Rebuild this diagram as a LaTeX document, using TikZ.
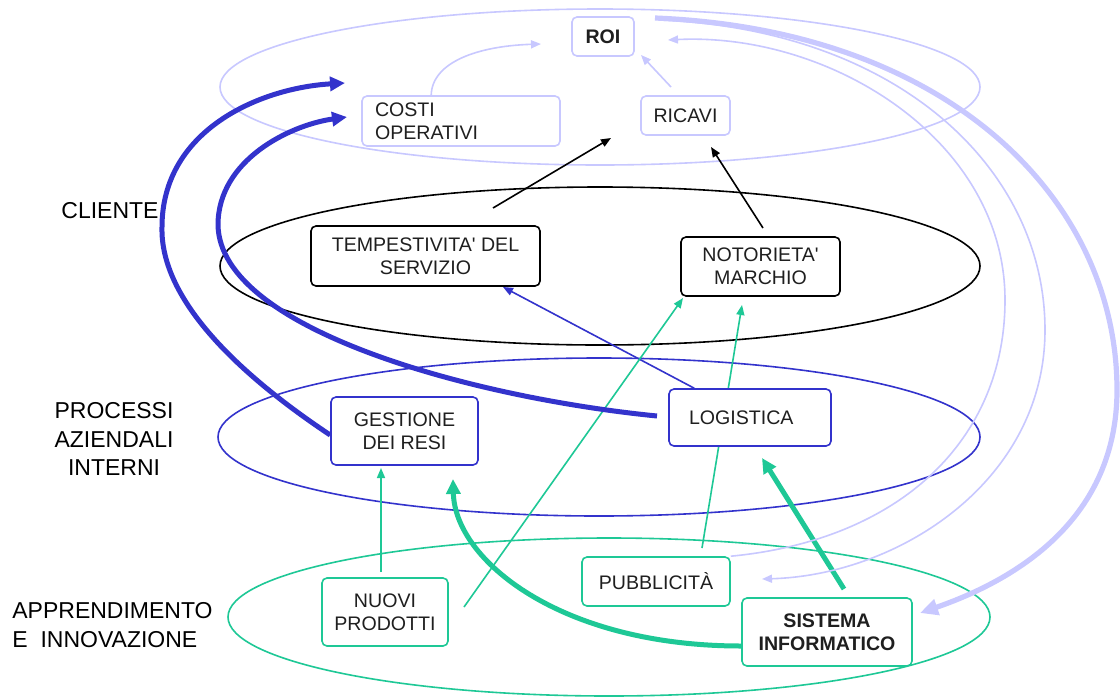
\documentclass[tikz,border=0pt]{standalone}
\usepackage{fontspec}
\setmainfont{Liberation Sans}
\usetikzlibrary{arrows.meta,backgrounds}
\definecolor{lav}{RGB}{200,200,255}
\definecolor{blu}{RGB}{51,51,204}
\definecolor{grn}{RGB}{30,200,150}
\newcommand{\nodefont}{\fontsize{9.8pt}{11.6pt}\selectfont}
\newcommand{\labfont}{\fontsize{11.5pt}{14.2pt}\selectfont}
\begin{document}
\begin{tikzpicture}[x=0.5pt,y=-0.5pt,
  box/.style={rounded corners=2.5pt, fill=white, line width=0.8pt, inner sep=0pt, align=center, font=\nodefont, text=black!88},
  lab/.style={font=\labfont, align=center, inner sep=0pt},
  thinarr/.style={line width=0.8pt, -{Triangle[length=5pt,width=4pt]}},
  thickarr/.style={line width=2.5pt, -{Triangle[length=7.5pt,width=7pt]}},
  bigarr/.style={line width=2.6pt, -{Triangle[length=9pt,width=8pt]}},
  ring/.style={line width=0.8pt}]
\useasboundingbox (0,0) rectangle (1120,697);

% nodes
\node[box, draw=lav, minimum width=31pt, minimum height=19.5pt, font=\nodefont\bfseries] (roi) at (603,36.5) {ROI};
\node[box, draw=lav, minimum height=25pt, text width=86pt, inner xsep=6.5pt, align=left] (costi) at (461,121) {COSTI\\OPERATIVI};
\node[box, draw=lav, minimum width=44.5pt, minimum height=19.5pt] (ricavi) at (685.5,115.5) {RICAVI};
\node[box, draw=black, minimum width=114.5pt, minimum height=30pt] (temp) at (425.5,256) {TEMPESTIVITA\textquotesingle{} DEL\\SERVIZIO};
\node[box, draw=black, minimum width=79.5pt, minimum height=29.5pt] (noto) at (760.5,266.5) {NOTORIETA\textquotesingle\\MARCHIO};
\node[box, draw=blu, minimum width=73.5pt, minimum height=34pt] (gest) at (404.5,431) {GESTIONE\\DEI RESI};
\node[box, draw=blu, minimum height=28.5pt, text width=61pt, inner xsep=10pt, align=left] (logi) at (750,417.5) {LOGISTICA};
\node[box, draw=grn, minimum width=63pt, minimum height=34pt] (nuovi) at (385,612) {NUOVI\\PRODOTTI};
\node[box, draw=grn, minimum width=74pt, minimum height=24.5pt] (pubb) at (656,581.5) {PUBBLICITÀ};
\node[box, draw=grn, minimum width=85pt, minimum height=34pt, font=\nodefont\bfseries] (sist) at (827,632) {SISTEMA\\INFORMATICO};

\node[lab] (cliente) at (110,211) {CLIENTE};
\node[lab] (proc) at (114,439) {PROCESSI\\AZIENDALI\\INTERNI};
\node[lab, align=left, anchor=west] (appr) at (12,625) {APPRENDIMENTO\\E\ \ INNOVAZIONE};

% free ends
\coordinate (tRoiL) at (541,44);
\coordinate (sRic) at (671,87);
\coordinate (tRoiB) at (641,55);
\coordinate (sTemp) at (493,208);
\coordinate (tRic1) at (611,138);
\coordinate (sNoto) at (763,228);
\coordinate (tRic2) at (711,147);
\coordinate (tTemp) at (503,287);
\coordinate (sNuovi) at (464,607);
\coordinate (tNotoA) at (683,298);
\coordinate (sPubb) at (702,548);
\coordinate (tNotoB) at (742,305);
\coordinate (sNuoviT) at (381,572);
\coordinate (tGestA) at (381,468);
\coordinate (tGestB) at (453,479);
\coordinate (sSist) at (844,589);
\coordinate (tLogi) at (762,458);
\coordinate (tTop1) at (345,83);
\coordinate (sLogi) at (657,416);
\coordinate (tTop2) at (347,117);
\coordinate (sRoi1) at (655,18);
\coordinate (sRoi2) at (660,20);
\coordinate (tSist) at (920,613);
\coordinate (tPubb) at (762,579);
\coordinate (tRoiR) at (668,40);

\begin{scope}[on background layer]
\fill[white] (0,0) rectangle (1120,697);
\draw[ring, lav] (600,87) ellipse [x radius=190pt, y radius=39pt];
\draw[ring, black] (600,266) ellipse [x radius=190pt, y radius=39.5pt];
\draw[ring, blu] (599,437) ellipse [x radius=190.5pt, y radius=39.5pt];
\draw[ring, grn] (609,617) ellipse [x radius=190.5pt, y radius=39.5pt];

\draw[thinarr, lav] ([xshift=35pt]costi.north west) .. controls (432,62) and (478,46) .. (tRoiL);
\draw[thinarr, lav] (sRic) -- (tRoiB);
\draw[thinarr, black] (sTemp) -- (tRic1);
\draw[thinarr, black] (sNoto) -- (tRic2);
\draw[thinarr, blu] ([xshift=13pt]logi.north west) -- (tTemp);
\draw[thinarr, grn] (sNuovi) -- (tNotoA);
\draw[thinarr, grn] (sPubb) -- (tNotoB);
\draw[thinarr, grn] (sNuoviT) -- (tGestA);
\draw[thickarr, grn] ([yshift=-7pt]sist.west) .. controls (560,646) and (455,560) .. (tGestB);
\draw[thickarr, grn] (sSist) -- (tLogi);
\draw[thickarr, blu] ([yshift=-2pt]gest.west) .. controls (240,375) and (160,300) .. (162,227) .. controls (162,130) and (260,88) .. (tTop1);
\draw[thickarr, blu] (sLogi) .. controls (475,398) and (220,330) .. (218,225) .. controls (218,160) and (290,125) .. (tTop2);
\draw[bigarr, lav] (sRoi1) .. controls (950,30) and (1117,200) .. (1117,390) .. controls (1117,520) and (1015,580) .. (tSist);
\draw[thinarr, lav] (sRoi2) .. controls (900,30) and (1045,170) .. (1045,330) .. controls (1045,480) and (900,575) .. (tPubb);
\draw[thinarr, lav] (pubb.north east) .. controls (900,540) and (1005,440) .. (1005,300) .. controls (1005,140) and (830,32) .. (tRoiR);
\end{scope}
\end{tikzpicture}
\end{document}
